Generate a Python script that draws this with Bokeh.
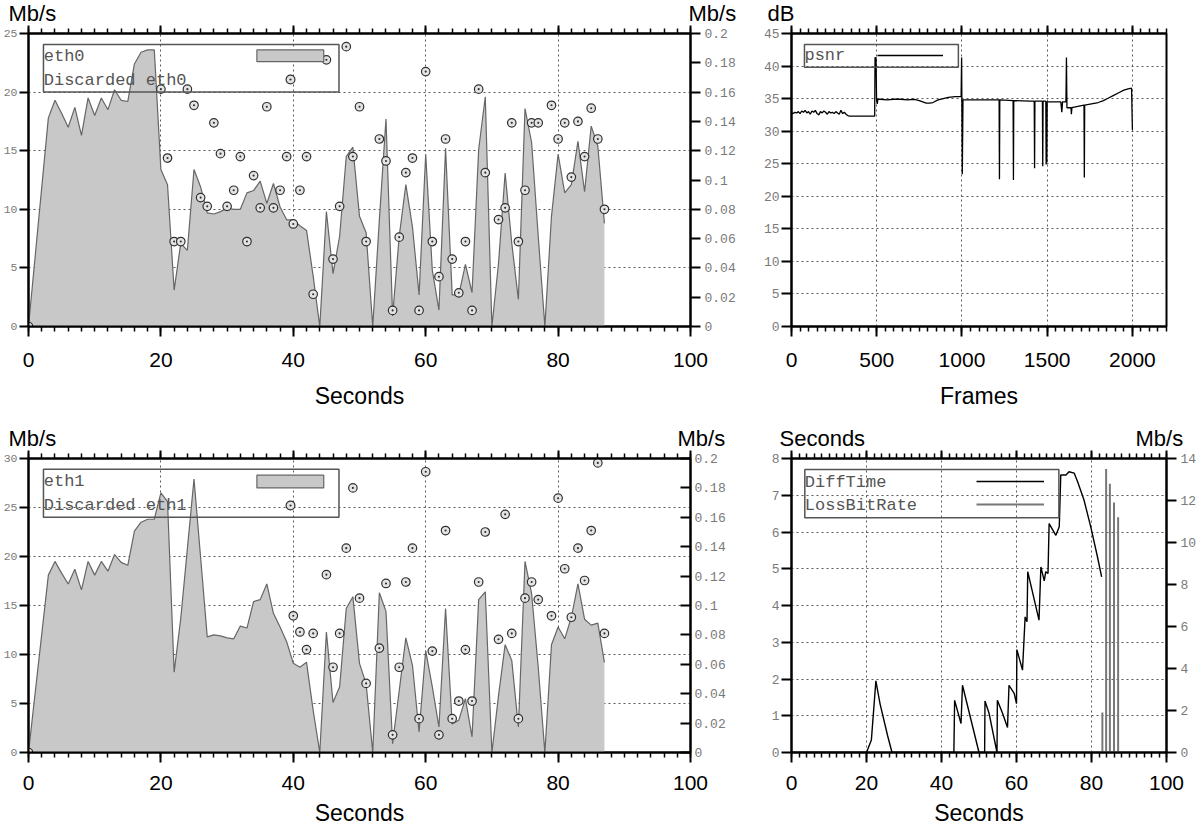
from bokeh.plotting import figure
from bokeh.models import (Range1d, LinearAxis, FixedTicker, CustomJSTickFormatter,
                          BoxAnnotation, Label, Legend, LegendItem, ColumnDataSource)
from bokeh.layouts import column, row
from bokeh.embed import file_html
from bokeh.resources import INLINE

# ---------------- data ----------------
eth0_t = [0, 3, 4, 5, 6, 7, 8, 9, 10, 11, 12, 13, 14, 15, 16, 17, 18, 19, 20, 21, 22, 23, 24, 25,
          26, 27, 28, 29, 30, 31, 32, 33, 34, 35, 36, 37, 38, 39, 40, 41, 42, 43, 44, 45, 46, 47,
          48, 49, 50, 51, 52, 53, 54, 55, 56, 57, 58, 59, 60, 61, 62, 63, 64, 65, 66, 67, 68, 69,
          70, 71, 72, 73, 74, 75, 76, 77, 78, 79, 80, 81, 82, 83, 84, 85, 86, 87]
eth0_rate = [0, 17.8, 19.3, 18.2, 17.0, 18.7, 16.3, 19.5, 18.0, 19.5, 18.5, 20.2, 19.3, 19.2, 22.4,
             23.4, 23.6, 23.6, 13.4, 12.1, 3.1, 7.1, 6.5, 13.4, 11.9, 9.7, 9.6, 9.8, 10.1, 10.0,
             10.0, 11.4, 11.6, 12.4, 10.5, 12.2, 10.2, 9.1, 9.1, 8.6, 8.2, 4.3, 0, 9.8, 4.5, 7.7,
             14.5, 15.3, 9.4, 8.0, 0, 9.1, 17.7, 0.9, 7.7, 12.1, 8.5, 2.7, 14.7, 4.8, 1.4, 15.2,
             2.7, 2.7, 5.3, 2.9, 15.1, 19.6, 0, 5.4, 13.1, 7.1, 2.3, 18.6, 15.7, 7.7, 0, 9.4, 14.7,
             11.4, 12.1, 15.8, 11.5, 17.1, 15.4, 8.8]
disc0_t = [0, 20, 21, 22, 23, 24, 25, 26, 27, 28, 29, 30, 31, 32, 33, 34, 35, 36, 37, 38, 39, 40,
           41, 42, 43, 45, 46, 47, 48, 49, 50, 51, 53, 54, 55, 56, 57, 58, 59, 60, 61, 62, 63, 64,
           65, 66, 67, 68, 69, 71, 72, 73, 74, 75, 76, 77, 79, 80, 81, 82, 83, 84, 85, 86, 87]
disc0_rate = [0, 0.162, 0.115, 0.058, 0.058, 0.162, 0.151, 0.088, 0.082, 0.139, 0.118, 0.082,
              0.093, 0.116, 0.058, 0.103, 0.081, 0.150, 0.081, 0.093, 0.116, 0.070, 0.093, 0.116,
              0.022, 0.182, 0.046, 0.082, 0.191, 0.116, 0.150, 0.058, 0.128, 0.113, 0.011, 0.061,
              0.105, 0.115, 0.011, 0.174, 0.058, 0.034, 0.128, 0.046, 0.023, 0.058, 0.011, 0.162,
              0.105, 0.073, 0.081, 0.139, 0.058, 0.093, 0.139, 0.139, 0.151, 0.128, 0.139, 0.102,
              0.140, 0.116, 0.149, 0.128, 0.080]

eth1_t = list(eth0_t)
eth1_rate = [0, 18.1, 19.5, 18.3, 17.2, 18.7, 16.6, 19.5, 18.1, 19.5, 18.5, 20.2, 19.4, 19.1, 22.6,
             23.5, 23.8, 23.8, 26.5, 25.6, 8.2, 13.7, 20.8, 27.9, 19.9, 11.8, 12.0, 11.9, 11.7,
             11.6, 12.9, 12.7, 15.4, 15.6, 17.2, 14.2, 12.8, 11.3, 9.1, 8.7, 9.2, 4.3, 0, 12.3,
             5.1, 6.7, 14.7, 15.9, 9.1, 7.0, 0, 16.3, 14.4, 0.9, 6.3, 11.7, 8.9, 2.1, 10.4, 6.7,
             2.6, 14.7, 2.9, 3.3, 5.5, 1.6, 15.6, 16.4, 0, 5.8, 11.0, 9.4, 2.6, 19.5, 16.2, 8.7, 0,
             11.0, 12.8, 11.6, 13.8, 17.2, 13.6, 13.0, 13.2, 9.2]
disc1_t = [0, 40, 41, 42, 43, 45, 46, 47, 48, 49, 50, 51, 53, 54, 55, 56, 57, 58, 59, 60, 61, 62,
           63, 64, 65, 66, 67, 68, 69, 71, 72, 73, 74, 75, 76, 77, 79, 80, 81, 82, 83, 84, 85, 86, 87]
disc1_rate = [0, 0.093, 0.082, 0.070, 0.081, 0.121, 0.058, 0.081, 0.139, 0.180, 0.105, 0.047,
              0.071, 0.115, 0.012, 0.058, 0.116, 0.139, 0.023, 0.191, 0.069, 0.012, 0.151, 0.023,
              0.035, 0.070, 0.035, 0.116, 0.150, 0.077, 0.162, 0.081, 0.023, 0.105, 0.116, 0.104,
              0.093, 0.173, 0.125, 0.092, 0.139, 0.117, 0.151, 0.197, 0.081]

psnr_frame = [0, 10, 20, 30, 40, 50, 60, 70, 80, 90, 100, 110, 120, 130, 140, 150, 160, 170, 180,
              190, 200, 210, 220, 230, 240, 250, 260, 270, 280, 290, 300, 310, 320, 330, 340,
              488, 490, 496, 499, 503, 507, 520, 560, 600, 640, 680, 720, 750, 770, 790, 810, 830,
              860, 890, 920, 960, 995, 998, 1002, 1006, 1100, 1200, 1218, 1220, 1222, 1300, 1302,
              1304, 1400, 1424, 1426, 1428, 1472, 1474, 1476, 1492, 1494, 1496, 1498, 1500, 1580,
              1586, 1590, 1610, 1613, 1616, 1640, 1642, 1645, 1680, 1716, 1718, 1720, 1760, 1800,
              1830, 1860, 1890, 1920, 1950, 1975, 1995, 2000]
psnr_db = [32.8, 32.7, 32.9, 32.8, 33.0, 32.7, 33.1, 32.9, 33.2, 32.8, 33.0, 32.6, 33.1, 32.9,
           33.2, 32.7, 32.5, 33.0, 32.8, 33.1, 32.9, 32.6, 33.0, 32.8, 32.9, 32.7, 33.0, 32.8,
           32.6, 33.2, 32.7, 32.9, 32.6, 32.4, 32.3,
           32.3, 41.3, 41.3, 34.9, 34.2, 34.9, 34.9, 34.8, 34.9, 34.9, 34.8, 34.9, 34.7, 34.5,
           34.3, 34.3, 34.4, 34.8, 35.0, 35.2, 35.3, 35.3, 41.3, 23.4, 34.8, 34.8, 34.8, 34.8,
           22.6, 34.8, 34.7, 22.5, 34.7, 34.6, 34.6, 24.3, 34.6, 34.6, 24.6, 34.6, 34.6, 24.9,
           34.6, 25.2, 34.5, 34.5, 32.9, 34.5, 34.5, 41.3, 33.6, 33.6, 32.6, 33.6, 33.8, 34.0,
           22.9, 34.0, 34.2, 34.4, 34.7, 35.1, 35.5, 35.9, 36.3, 36.5, 36.6, 30.2]

diff_t = [0, 20, 21.3, 22.5, 23.6, 25.6, 26.8, 43.3, 43.5, 45.2, 45.6, 50.0, 51.5, 51.6, 52.7,
          54.8, 54.9, 56.3, 57.6, 58.0, 59.4, 60.0, 60.1, 61.6, 62.3, 62.8, 63.0, 66.0, 66.5,
          67.4, 67.8, 68.4, 68.7, 70.5, 71.4, 71.8, 73.2, 74.0, 75.4, 76.3, 78.0, 79.8, 81.6, 82.7]
diff_sec = [0, 0, 0.34, 1.95, 1.33, 0.47, 0, 0, 1.42, 0.79, 1.83, 0, 0, 1.4, 1.06, 0, 1.42, 1.06,
            0.68, 1.83, 1.6, 1.33, 2.8, 2.24, 3.69, 3.56, 4.92, 3.6, 5.05, 4.67, 4.92, 4.87, 6.23,
            5.91, 6.14, 7.55, 7.55, 7.64, 7.6, 7.37, 6.87, 6.14, 5.32, 4.78]
loss_t = [82.9, 83.9, 84.9, 86.0, 87.1]
loss_rate = [1.9, 13.5, 12.8, 11.9, 11.2]

sec_ticks = [0, 20, 40, 60, 80, 100]
sec_minor = [0, 2, 4, 6, 8, 10, 12, 14, 16, 18, 20, 22, 24, 26, 28, 30, 32, 34, 36, 38, 40, 42, 44,
             46, 48, 50, 52, 54, 56, 58, 60, 62, 64, 66, 68, 70, 72, 74, 76, 78, 80, 82, 84, 86,
             88, 90, 92, 94, 96, 98, 100]
frame_ticks = [0, 500, 1000, 1500, 2000]
frame_minor = [i * 50 for i in range(45)]
mbps25_ticks = [0, 5, 10, 15, 20, 25]
mbps30_ticks = [0, 5, 10, 15, 20, 25, 30]
disc_ticks = [0, 0.02, 0.04, 0.06, 0.08, 0.1, 0.12, 0.14, 0.16, 0.18, 0.2]
db_ticks = [0, 5, 10, 15, 20, 25, 30, 35, 40, 45]
sec8_ticks = [0, 1, 2, 3, 4, 5, 6, 7, 8]
loss_ticks = [0, 2, 4, 6, 8, 10, 12, 14]

assert len(eth0_t) == len(eth0_rate) == len(eth1_rate)
assert len(disc0_t) == len(disc0_rate) and len(disc1_t) == len(disc1_rate)
assert len(psnr_frame) == len(psnr_db) and len(diff_t) == len(diff_sec)

# ---------------- layout / style constants ----------------
SANS = "Liberation Sans"
MONO = "Liberation Mono"
TICKGRAY = "#7a7a7a"
AREA = "#c8c8c8"
AREA_LINE = "#666666"

LEFT_W, RIGHT_W = 750, 450
L_BL, L_BR = 27, 60      # left column: frame from 27 to 690
R_BL, R_BR = 41, 34      # right column: frame from 791 to 1166
TOP_B = 8
STRIP_H = 25
ROW1_H, ROW2_H = 400, 381


def base(w, h, xr, yr, bl, br, bt, bb):
    p = figure(width=w, height=h, x_range=Range1d(*xr), y_range=Range1d(*yr),
               output_backend="svg", toolbar_location=None,
               min_border_left=bl, min_border_right=br, min_border_top=bt, min_border_bottom=bb)
    p.outline_line_color = "black"
    p.outline_line_width = 2
    p.outline_line_alpha = 1
    for g in (p.xgrid[0], p.ygrid[0]):
        g.grid_line_color = "#5a5a5a"
        g.grid_line_dash = "2 3"
        g.grid_line_width = 1
    return p


def strip(w, items):
    """Caption strip holding the unit names written above a panel."""
    s = figure(width=w, height=STRIP_H, x_range=Range1d(0, w), y_range=Range1d(0, STRIP_H),
               output_backend="svg", toolbar_location=None, min_border=0,
               x_axis_location=None, y_axis_location=None)
    s.outline_line_color = None
    for g in s.grid:
        g.visible = False
    for px, text in items:
        s.add_layout(Label(x=px, y=STRIP_H / 2, text=text, text_font=SANS,
                           text_font_size="22px", text_color="black",
                           text_baseline="middle", text_align="left"))
    return s


def axis_lines(ax):
    ax.axis_line_color = "black"
    ax.axis_line_width = 2
    ax.major_tick_line_color = "black"
    ax.minor_tick_line_color = "black"
    ax.major_tick_line_width = 2
    ax.minor_tick_line_width = 1.5
    ax.major_tick_in = 0
    ax.minor_tick_in = 0


def setup_x(p, ticks, minor, title, std, lab_std):
    tk = FixedTicker(ticks=ticks, minor_ticks=minor)
    ax = p.xaxis[0]
    ax.ticker = tk
    p.xgrid[0].ticker = tk
    axis_lines(ax)
    ax.major_tick_out = 10
    ax.minor_tick_out = 5
    ax.major_label_text_font = SANS
    ax.major_label_text_font_size = "21px"
    ax.major_label_text_color = "black"
    ax.major_label_standoff = std
    ax.axis_label = title
    ax.axis_label_text_font = SANS
    ax.axis_label_text_font_size = "23px"
    ax.axis_label_text_font_style = "normal"
    ax.axis_label_text_color = "black"
    ax.axis_label_standoff = lab_std
    top = LinearAxis(ticker=tk, formatter=CustomJSTickFormatter(code="return ''"))
    axis_lines(top)
    top.major_tick_out = TOP_B
    top.minor_tick_out = 5
    top.major_label_text_font_size = "0px"
    top.major_label_standoff = 0
    p.add_layout(top, "above")


def setup_left(p, ticks, tick_out, font_px):
    tk = FixedTicker(ticks=ticks)
    ax = p.yaxis[0]
    ax.ticker = tk
    p.ygrid[0].ticker = tk
    axis_lines(ax)
    ax.major_tick_out = tick_out
    ax.minor_tick_out = 0
    ax.major_label_text_font = MONO
    ax.major_label_text_font_size = font_px
    ax.major_label_text_color = TICKGRAY
    ax.major_label_standoff = 2


def add_right(p, name, rng, ticks, tick_out, tick_in):
    p.extra_y_ranges = {name: Range1d(*rng)}
    ax = LinearAxis(y_range_name=name, ticker=FixedTicker(ticks=ticks),
                    formatter=CustomJSTickFormatter(code="return String(Math.round(tick*100)/100)"))
    axis_lines(ax)
    ax.major_tick_out = tick_out
    ax.major_tick_in = tick_in
    ax.minor_tick_out = 0
    ax.major_label_text_font = MONO
    ax.major_label_text_font_size = "13px"
    ax.major_label_text_color = TICKGRAY
    ax.major_label_standoff = 4
    p.add_layout(ax, "right")


def legend_box(p, left, right, bottom, top):
    p.add_layout(BoxAnnotation(left=left, right=right, bottom=bottom, top=top,
                               fill_alpha=0, line_color="#555555", line_width=1.5,
                               line_alpha=1))


def legend_text(p, x, y, text):
    p.add_layout(Label(x=x, y=y, text=text, text_font=MONO, text_font_size="17px",
                       text_color="#555555", text_baseline="middle", text_align="left"))


def sample(p, renderer, x, y, w, h):
    leg = Legend(items=[LegendItem(label=" ", renderers=[renderer])], location=(x, y),
                 glyph_width=w, glyph_height=h, label_height=h, label_width=0,
                 label_standoff=0, padding=0, margin=0, spacing=0,
                 border_line_alpha=0, background_fill_alpha=0, label_text_font_size="1px")
    p.add_layout(leg)


def eth_panel(h, ymax, yticks, bb, t, rate, dt, drate, name,
              right_out, right_in, box, rect, std, lab_std):
    p = base(LEFT_W, h, (0, 100), (0, ymax), L_BL, L_BR, TOP_B, bb)
    setup_x(p, sec_ticks, sec_minor, "Seconds", std, lab_std)
    setup_left(p, yticks, 9, "11.5px")
    add_right(p, "disc", (0, 0.2), disc_ticks, right_out, right_in)
    src = ColumnDataSource(dict(t=t, rate=rate))
    p.varea(x="t", y1=0, y2="rate", source=src, fill_color=AREA, fill_alpha=1)
    p.line("t", "rate", source=src, line_color=AREA_LINE, line_width=1.2)
    dsrc = ColumnDataSource(dict(t=dt, rate=drate))
    sc = p.scatter("t", "rate", source=dsrc, y_range_name="disc", marker="circle_dot", size=8.5,
                   line_color="#303030", line_width=1.2, fill_color="#e4e4e4")
    legend_box(p, *box)
    legend_text(p, 2.3, box[3] - (box[3] - box[2]) * 0.25, name)
    legend_text(p, 2.3, box[2] + (box[3] - box[2]) * 0.25, "Discarded " + name)
    p.add_layout(BoxAnnotation(left=rect[0], right=rect[1], bottom=rect[2], top=rect[3],
                               fill_color=AREA, fill_alpha=1, line_color=AREA_LINE,
                               line_width=1.2, line_alpha=1))
    sample(p, sc, 251, 236, 22, 22)
    return p


p1 = eth_panel(ROW1_H, 25, mbps25_ticks, 99, eth0_t, eth0_rate, disc0_t, disc0_rate,
               "eth0", 10, 0, (2.26, 46.9, 20.0, 24.06), (34.5, 44.6, 22.6, 23.6), 16, 13)
p3 = eth_panel(ROW2_H, 30, mbps30_ticks, 79, eth1_t, eth1_rate, disc1_t, disc1_rate,
               "eth1", 0, 10, (2.26, 46.9, 24.0, 28.9), (34.5, 44.6, 27.0, 28.3), 13, 7)

# ---- psnr panel ----
p2 = base(RIGHT_W, ROW1_H, (0, 2200), (0, 45), R_BL, R_BR, TOP_B, 99)
setup_x(p2, frame_ticks, frame_minor, "Frames", 16, 13)
setup_left(p2, db_ticks, 10, "13px")
ps = p2.line(psnr_frame, psnr_db, line_color="black", line_width=1.3)
legend_box(p2, 76, 979, 39.8, 43.3)
legend_text(p2, 76, 41.6, "psnr")
sample(p2, ps, 86, 266, 66, 10)

# ---- DiffTime / LossBitRate panel ----
p4 = base(RIGHT_W, ROW2_H, (0, 100), (0, 8), R_BL, R_BR, TOP_B, 79)
setup_x(p4, sec_ticks, sec_minor, "Seconds", 13, 7)
setup_left(p4, sec8_ticks, 10, "13px")
add_right(p4, "loss", (0, 14), loss_ticks, 10, 0)
dl = p4.line(diff_t, diff_sec, line_color="black", line_width=1.4)
lsrc = ColumnDataSource(dict(t=loss_t, rate=loss_rate))
ll = p4.segment(x0="t", y0=0, x1="t", y1="rate", source=lsrc, y_range_name="loss",
                line_color="#777777", line_width=2)
legend_box(p4, 3.55, 71.3, 6.39, 7.70)
legend_text(p4, 3.55, 7.35, "DiffTime")
legend_text(p4, 3.55, 6.72, "LossBitRate")
sample(p4, dl, 185, 266, 68, 10)
sample(p4, ll, 185, 243, 68, 10)

# ---- caption strips (units above the panels) ----
s1a = strip(LEFT_W, [(8, "Mb/s"), (688, "Mb/s")])
s1b = strip(RIGHT_W, [(17, "dB")])
s2a = strip(LEFT_W, [(8, "Mb/s"), (677, "Mb/s")])
s2b = strip(RIGHT_W, [(29, "Seconds"), (385, "Mb/s")])

layout = column(row(s1a, s1b), row(p1, p2), row(s2a, s2b), row(p3, p4))
open("out.html", "w").write(file_html(layout, INLINE))
